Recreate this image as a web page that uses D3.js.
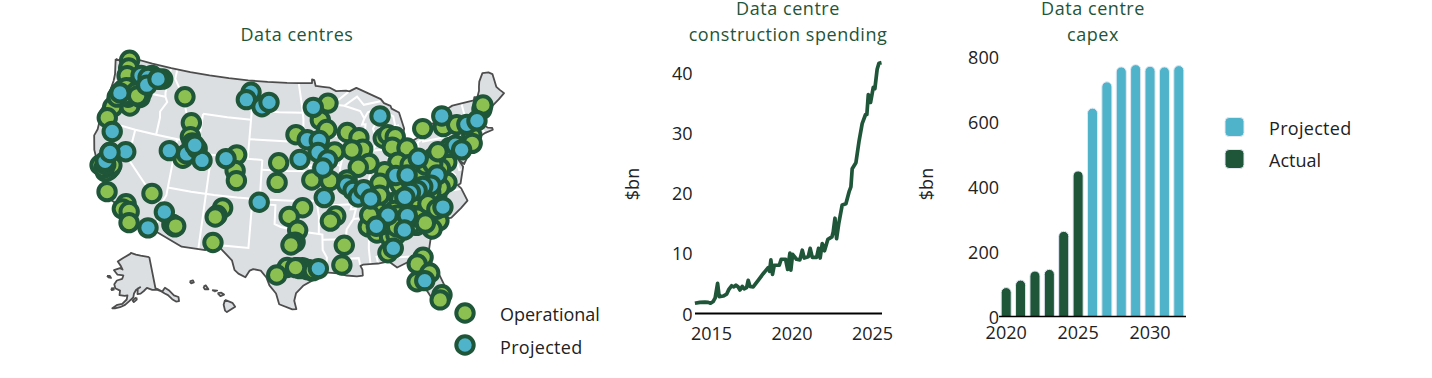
<!DOCTYPE html>
<html><head><meta charset="utf-8"><script src="https://cdn.jsdelivr.net/npm/d3@7"></script>
<style>html,body{margin:0;background:#fff}svg{display:block}text{font-family:"Open Sans",sans-serif}</style></head><body>
<svg id="c" width="1432" height="378"></svg>
<script>
const outline48=[[-125.6,48.4],[-123.8,48.3],[-122.8,49],[-120,49],[-117,49],[-114,49],[-111,49],[-108,49],[-105,49],[-102,49],[-99,49],[-97.2,49],[-95.15,49],[-95.15,49.38],[-94.8,49.3],[-94.6,48.7],[-93.5,48.6],[-92.5,48.5],[-91.5,48.1],[-90,48.1],[-89.5,48],[-88.4,48.3],[-84.9,46.9],[-84.5,46.45],[-83.6,46.1],[-83.5,45.8],[-82.5,45.3],[-82.1,43.6],[-82.5,42.6],[-83.1,42.2],[-83.1,41.95],[-82.4,41.7],[-81.3,42.2],[-78.9,42.9],[-79.05,43.25],[-79.2,43.45],[-78.7,43.63],[-76.8,43.63],[-76.4,44.1],[-75.3,44.85],[-74.7,45],[-71.5,45],[-71.3,45.3],[-70.85,45.25],[-70.4,45.8],[-70.25,46.2],[-70,46.7],[-69.2,47.45],[-68.3,47.35],[-67.8,47.07],[-67.8,45.7],[-67.45,45.3],[-67,44.85],[-68,44.4],[-69,44],[-70,43.7],[-70.7,43.07],[-70.8,42.8],[-71,42.3],[-70.6,41.95],[-70,41.8],[-70,41.6],[-71.1,41.5],[-71.9,41.3],[-73.6,41],[-72,41],[-73.9,40.55],[-74,40.5],[-74.1,39.7],[-74.9,38.95],[-75.5,39.5],[-75.1,38.7],[-75.9,37.1],[-76.3,37],[-75.95,36.6],[-75.5,35.25],[-76.5,34.65],[-77.9,33.9],[-78.55,33.85],[-79.2,33.2],[-80.9,32.05],[-81.4,30.7],[-81.3,29.9],[-80.55,28.4],[-80.05,26.9],[-80.15,25.75],[-80.4,25.2],[-81.1,25.15],[-81.8,26.1],[-82.2,26.9],[-82.75,27.9],[-82.65,28.9],[-83.4,29.6],[-84,30.1],[-85.3,29.7],[-86.2,30.4],[-87.5,30.3],[-88.1,30.3],[-89.3,30.3],[-89.6,30.2],[-89.4,29.8],[-89.4,29.2],[-90.1,29.15],[-91.3,29.3],[-92.3,29.55],[-93.8,29.7],[-94.7,29.4],[-95.3,28.9],[-96.4,28.35],[-97.2,27.6],[-97.4,26.8],[-97.15,25.95],[-97.6,25.9],[-99.1,26.4],[-99.5,27.5],[-100.3,28.3],[-100.7,29.1],[-101.4,29.77],[-102.3,29.88],[-102.7,29.7],[-103.15,28.98],[-104,29.3],[-104.5,29.65],[-104.9,30.6],[-106.5,31.75],[-108.2,31.78],[-108.2,31.33],[-111.07,31.33],[-114.8,32.5],[-117.12,32.53],[-117.3,33],[-118.4,33.75],[-118.7,34.03],[-119.6,34.15],[-121,34.55],[-121.3,35.15],[-122.6,36.6],[-123.2,37.75],[-123.9,38],[-124.6,38.9],[-125.2,40.3],[-125,41],[-125.1,42],[-125.4,42.85],[-125,44],[-124.9,46.2],[-125,46.9],[-125.6,48.4]];
const alaska=[[-141,69.6],[-141,60.3],[-139.5,59.8],[-137.5,58.9],[-136.5,59.4],[-135.5,59.8],[-133.8,58.8],[-132,56.9],[-130,56],[-130.5,54.8],[-132,55],[-133.5,56],[-135,57.5],[-136.5,58.2],[-138,59],[-140,59.7],[-143,60],[-146,60.8],[-148,60],[-150,59.3],[-151.8,59.2],[-151.5,60.8],[-150,61.2],[-152.5,60.5],[-153.8,59.4],[-154.2,58.3],[-156.5,57.1],[-158.5,56],[-161,55.2],[-163.5,54.7],[-164.8,54.6],[-162.5,55.8],[-160,56.2],[-157.8,57.6],[-157.5,58.8],[-159,58.6],[-162,58.7],[-162,60],[-165,60.5],[-166,61.6],[-164.8,62.8],[-161.5,63.5],[-161,64.5],[-165,64.5],[-168,65.6],[-164,66.5],[-162,66.2],[-163.7,67.2],[-166.5,68.3],[-163,69.5],[-157,71],[-156.5,71.3],[-152,70.8],[-148,70.4],[-141,69.6]];
const islands=[[[-152.4,58.2],[-152.3,57.6],[-153.9,56.9],[-154.6,57.4],[-153.2,58],[-152.4,58.2]],[[-171.7,63.5],[-170,63.7],[-168.8,63.2],[-170.5,63.2],[-171.7,63.5]],[[-167.4,60.2],[-166,60.4],[-165.7,60],[-166.8,59.8],[-167.4,60.2]],[[-155.9,20.2],[-155.1,19.9],[-154.8,19.5],[-155.7,18.95],[-155.9,19.1],[-156.05,19.7],[-155.9,20.2]],[[-156.7,20.9],[-156.3,20.95],[-156,20.75],[-156.4,20.6],[-156.7,20.9]],[[-158.25,21.55],[-158,21.7],[-157.7,21.3],[-158.1,21.3],[-158.25,21.55]],[[-159.75,22.1],[-159.4,22.2],[-159.3,22],[-159.6,21.9],[-159.75,22.1]],[[-157.3,21.2],[-156.75,21.17],[-157,21.08],[-157.3,21.2]]];
const stateLines=[
[[-124.9,46.25],[-123.2,46.15],[-122.8,45.65],[-121.2,45.65],[-119.3,45.93],[-116.92,46]],
[[-117.03,49],[-117.04,46.4],[-116.92,46],[-116.5,45.5],[-117.2,44.4],[-117.03,43.8],[-117.03,42]],
[[-125.1,42],[-120,42],[-117,42],[-114,42],[-111.05,42]],
[[-120,42],[-120,39],[-114.63,35],[-114.05,36.2],[-114.05,42]],
[[-114.72,32.72],[-114.5,33.4],[-114.15,34.25],[-114.63,35]],
[[-114.05,37],[-111,37],[-108,37],[-105,37],[-102.04,37],[-98,37],[-94.62,37]],
[[-111.05,45],[-111.05,41],[-108,41],[-105,41],[-102.05,41]],
[[-116.05,49],[-116.05,48],[-114.7,46.7],[-114.5,45.6],[-113.9,45.6],[-113.5,44.9],[-113,44.45],[-111.5,44.55],[-111.05,44.5]],
[[-111.05,45],[-107.5,45],[-104.05,45]],
[[-104.05,49],[-104.05,41]],
[[-104.05,45.94],[-100,45.94],[-96.56,45.94]],
[[-102.05,41],[-102.05,37]],
[[-102.05,40],[-98.5,40],[-95.3,40]],
[[-104.05,43],[-98.5,43],[-97.9,42.8],[-96.45,42.5]],
[[-109.05,41],[-109.05,37],[-109.05,31.33]],
[[-103,37],[-103.05,32],[-106.6,32],[-106.5,31.75]],
[[-103,36.5],[-100,36.5],[-100,34.56],[-99.2,34.3],[-98,34.1],[-97.2,33.85],[-96,33.8],[-94.48,33.63],[-94.04,33.55],[-94.04,32],[-93.55,31.2],[-93.7,30.1],[-93.8,29.7]],
[[-94.62,37],[-94.62,36.5],[-94.43,35.4],[-94.48,33.63]],
[[-94.62,36.5],[-90.15,36.5],[-90.37,36],[-89.7,36]],
[[-95.3,40],[-94.62,39.1],[-94.62,37]],
[[-96.45,42.5],[-96,41.5],[-95.8,40.6],[-95.3,40]],
[[-97.2,49],[-96.6,46.3],[-96.56,45.94],[-96.45,45.3],[-96.45,42.5]],
[[-96.45,43.5],[-91.22,43.5]],
[[-95.77,40.58],[-91.73,40.61],[-91.4,40.4]],
[[-89.5,48],[-92.1,46.75],[-92.3,46.1],[-92.9,45.6],[-92.75,44.75],[-91.22,43.5],[-91.2,42.7],[-90.64,42.5],[-90.15,41.8],[-91.1,41.2],[-91.4,40.4],[-91.5,40],[-90.7,39],[-90.2,38.7],[-89.5,37.3],[-89.15,37],[-89.5,36.5],[-89.7,36],[-90.1,35],[-91,34],[-91.2,33],[-91.1,32.5],[-91.6,31],[-89.75,31],[-89.6,30.2]],
[[-94.04,33.02],[-91.17,33]],
[[-88.1,35],[-88.45,31.9],[-88.4,30.3]],
[[-89.5,36.5],[-88,36.5],[-83.68,36.6],[-81.68,36.59],[-75.9,36.55]],
[[-90.1,35],[-84.3,35],[-82,36.1],[-81.68,36.59]],
[[-84.3,35],[-83.1,35],[-82.4,35.2],[-81,35.15],[-80.8,34.85],[-79.7,34.8],[-78.55,33.85]],
[[-85.6,34.98],[-85.2,32.85],[-85,32.3],[-85,31],[-87.6,31],[-87.5,30.3]],
[[-85,31],[-84.86,30.7],[-82.2,30.55],[-82,30.4],[-81.45,30.7]],
[[-83.1,35],[-81.9,33.5],[-81,32.1]],
[[-90.64,42.5],[-87.8,42.5]],
[[-87.53,41.7],[-87.53,39.35],[-88,37.8]],
[[-89.15,37],[-88,37.8],[-87,37.9],[-86,38],[-85.4,38.7],[-84.8,39.1],[-83.7,38.65],[-82.6,38.4],[-82,39],[-80.85,39.7],[-80.52,40.64]],
[[-82.6,38.4],[-82,37.5],[-83.68,36.6]],
[[-82,37.5],[-81.2,37.3],[-80.3,37.5],[-79.3,38.4],[-78.35,39.4],[-77.75,39.3],[-77.05,38.85],[-76.3,38]],
[[-77.75,39.3],[-79.48,39.2],[-79.48,39.72]],
[[-80.52,39.72],[-75.79,39.72]],
[[-80.52,39.72],[-80.52,42]],
[[-79.76,42.27],[-79.76,42],[-75.35,42],[-74.7,41.36],[-75.1,40.9],[-75.2,40.1],[-75.5,39.8]],
[[-74.7,41.36],[-73.9,41]],
[[-75.79,39.72],[-75.7,38.46],[-75.05,38.46]],
[[-84.8,39.1],[-84.8,41.73]],
[[-87,41.75],[-84.8,41.73],[-83.4,41.73]],
[[-73.65,41],[-73.5,42.05],[-73.27,42.75],[-73.35,45]],
[[-73.5,42.05],[-71.8,42.02],[-71.4,42.02],[-71.2,41.5]],
[[-71.8,42.02],[-71.85,41.3]],
[[-73.27,42.73],[-71.3,42.7],[-70.8,42.87]],
[[-72.46,42.73],[-72.05,44],[-71.5,45]],
[[-71.05,45.3],[-70.98,43.4],[-70.7,43.07]],
[[-90.4,46.55],[-88.1,45.9],[-87.6,45.1],[-88,44.5],[-87.5,44.5],[-87.9,43],[-87.8,42.5],[-87.5,41.7],[-87,41.75],[-86.5,42.1],[-86.2,43],[-86.5,44],[-85.5,45],[-84.8,45.75],[-85.5,46],[-87,45.7],[-87.6,45.1]],
[[-92.1,46.75],[-90.4,46.55],[-88.4,47.4],[-87.5,46.5],[-85,46.7]],
[[-83.4,41.73],[-82.5,41.4],[-81.7,41.5],[-80.52,42],[-79.76,42.27],[-78.9,42.9]],
[[-84.8,45.75],[-83.4,45],[-83.3,44],[-83.9,43.7],[-82.9,44],[-82.5,43],[-82.5,42.6]]
];
const operationalSites=[[-123.5,48.7],[-123.3,47.9],[-123.2,47.1],[-120.4,45.9],[-121.6,44.2],[-123.9,43.6],[-124.2,42.4],[-114.1,46.4],[-112.5,43.9],[-112.3,42.5],[-111.9,41.9],[-112.8,40.2],[-105.6,41.3],[-105.6,39.7],[-105.3,38.7],
[-99.8,40.8],[-99.9,38.8],[-97.5,43.7],[-119.6,47.8],[-117.9,47.7],[-118.4,47.6],[-123.5,45.2],[-123.2,45.6],[-122.9,37.5],[-122.1,37.3],[-121.9,37.6],[-122.5,39.1],[-121.5,35.2],[-115.9,36.1],[-118.8,34.5],
[-119.1,33.9],[-118.2,33.8],[-117.9,32.7],[-112.6,33.4],[-112.7,33.4],[-106.7,35.8],[-107.3,35],[-107.5,34.8],[-107.4,32.2],[-96.5,36.3],[-98.2,35.4],[-92.3,35.4],[-93,34.9],[-97.1,34],[-97.4,32.8],
[-97.7,32.7],[-97.9,32.5],[-91.4,32.4],[-91.8,30.4],[-98.3,30.2],[-99.5,29.4],[-97.1,30.2],[-96.5,30.2],[-95.9,30],[-95.4,29.9],[-94,45.2],[-93.1,44.2],[-92.8,46.9],[-90.2,43.8],[-88.6,43.2],
[-88.2,42],[-89.7,42],[-92.1,41.9],[-95.3,39.1],[-92.9,39],[-87.5,40.5],[-89,40.2],[-85.2,42.9],[-84.5,43.2],[-83.5,42.9],[-84.1,41.9],[-82.1,41.6],[-83.6,40.3],[-85.5,39.5],[-86.3,38.4],
[-90.6,39],[-79.5,43.3],[-76.6,43.1],[-74.7,43],[-70.7,43.9],[-70.4,44.3],[-73,41.6],[-73.2,40.8],[-77.1,39.5],[-76.3,40.9],[-78.8,40.2],[-77.6,37.5],[-87.2,36.1],[-85,36.3],[-88.3,34.1],
[-87.3,33.4],[-85.6,33.9],[-85.8,32.9],[-86.2,31.3],[-81.2,35.3],[-82.3,33.7],[-79.5,33.8],[-80.5,33.1],[-82.1,30.4],[-82.9,29.8],[-81.6,28.7],[-83.2,28],[-80.6,26.3],[-80.9,25.8],[-84,36.5],
[-82.2,35.3],[-122.2,45],[-120.5,45.3],[-121.9,46.1],[-123.7,44.7],[-123.3,37.6],[-122.4,37.1],[-121.8,37.9],[-112.3,33.2],[-81.8,37.8],[-80.6,36.9],[-83.7,38],[-82.3,38.4],[-83.4,35.9],[-84.8,35.5],
[-83.1,33.8],[-81.1,34.6],[-79.2,36.4],[-81.8,39.8],[-80.2,39.1],[-78.1,39],[-86.5,37.2],[-88,35.3],[-86.6,34.2],
[-96.8,30.1],[-96.2,30.1],[-95.7,30],[-95.2,29.9],[-97.3,30.2],[-112.5,33.3],[-112.2,33.3],[-121.9,45.6],[-122.6,45.2],[-122.8,45.9],[-121.3,45.7],[-120.9,45.4],[-122.7,37.4],[-122.6,37.8],[-80,37.9],[-79.2,37.6],[-78.6,37.1],[-79.9,36.8],[-81.2,36.8],[-81.9,36.4],[-84.5,35],[-82,34.5],[-80.5,35.7],[-79.5,35],[-81.2,33.8],[-85,33],[-84.8,33.8],[-81,39],[-80,39.6],[-79,39.6],[-78,40.7],[-82,39.9]];
const projectedSites=[[-121.2,47.5],[-120.1,47.5],[-120,46.7],[-118.6,47.6],[-123.5,45.2],[-123,41.2],
[-120.5,39.6],[-122.8,38.1],[-122.5,39.1],[-114.8,40.7],[-112.4,40.7],[-111.1,41.4],[-110.2,40.3],[-111.5,41.7],[-107,40.8],[-104.4,47.8],[-105,47],[-102.6,46.4],[-101.6,46.9],[-95.9,43.2],[-94.2,43.1],
[-96.9,41.2],[-94.4,41.9],[-93.1,41.1],[-93.8,40.3],[-115.5,32.6],[-113.9,34.5],[-102.1,36.7],[-93.7,37.3],[-94.6,30.1],[-95,46.5],[-85.3,45.2],[-90.7,38.5],[-89.9,37.9],[-89.3,37.2],[-88.5,37.9],
[-87.7,36.9],[-84.1,39],[-82.6,38.9],[-80.8,40.4],[-76.5,44.2],[-73.3,42.8],[-71.8,42.9],[-75.5,41],[-74.8,40.4],[-78.7,38.4],[-79.7,37.5],[-80.8,37.5],[-81.6,37.2],[-82.5,37.1],[-83.3,36.7],
[-78.7,35.1],[-83.3,34.8],[-83.9,33.4],[-85.7,35.1],[-87.3,34.1],[-85.5,31.7],[-82.3,28]];
const spendingYears=[2014,2014.31,2014.62,2014.83,2014.97,2015.14,2015.26,2015.41,2015.51,2015.76,2015.97,2016.11,2016.28,2016.42,2016.55,2016.69,2016.8,2016.94,2017.06,2017.21,2017.31,2017.42,2017.62,2017.93,2018.24,2018.55,2018.64,2018.72,2018.82,2018.93,2019.24,2019.36,2019.63,2019.76,2019.9,2019.96,2020.07,2020.31,2020.52,2020.67,2020.79,2021.04,2021.16,2021.29,2021.56,2021.68,2021.78,2021.91,2022.05,2022.26,2022.51,2022.59,2022.7,2022.8,2022.94,2023.15,2023.38,2023.59,2023.69,2023.77,2024,2024.19,2024.39,2024.6,2024.68,2024.77,2024.91,2025.08,2025.18,2025.32,2025.43,2025.59];
const spendingValues=[1.7,1.85,1.9,1.85,1.7,2,2.6,5,2.8,2.9,3.2,4,4.6,4.4,4.7,4.4,3.9,4.5,4.1,4.3,5.5,4.5,4.4,5.5,6.6,7.6,7,8.9,6.5,8,8,9,9,7.3,10,7.2,9.8,9,8.9,10.5,9.2,9.4,10.8,9.3,9.3,10.8,9.2,11.6,10.4,12.3,12.7,13.5,15.8,12.4,15,18,18.2,20.3,21,24,25,28.5,31.5,33,33,36.3,35,37.5,37.3,40.5,41.5,41.6];
const capexYears=[2020,2021,2022,2023,2024,2025,2026,2027,2028,2029,2030,2031,2032];
const capexValues=[89,112,140,145,262,448,641,722,768,775,770,768,772];
const capexStatus=["Actual","Actual","Actual","Actual","Actual","Actual","Projected","Projected","Projected","Projected","Projected","Projected","Projected"];
const COL={dark:"#1f5538",green:"#8cc152",blue:"#4fb3c9",land:"#dcdfe2",edge:"#4d4d4d",ink:"#222",halo:"#e3e8f4"};
const FS=18;
const svg=d3.select("#c");
const txt=(x,y,s,o={})=>svg.append("text").attr("x",x).attr("y",y).attr("fill",o.fill||COL.ink).attr("font-size",o.size||FS).attr("text-anchor",o.anchor||"start").attr("font-weight",o.weight||400).attr("letter-spacing",o.ls||0).text(s);
const title=(x,y,s)=>txt(x,y,s,{fill:COL.dark,anchor:"middle",weight:500,size:18,ls:.55});
// map
const proj=d3.geoAlbersUsa().scale(560).translate([302,184]);
const line=d3.line().defined(d=>d).x(d=>d[0]).y(d=>d[1]);
const pp=a=>a.map(p=>proj(p));
const g=svg.append("g");
const shapes=[outline48,alaska,...islands];
shapes.forEach(r=>g.append("path").attr("d",line(pp(r))).attr("fill",COL.land));
stateLines.forEach(r=>g.append("path").attr("d",line(pp(r))).attr("fill","none").attr("stroke","#fff").attr("stroke-width",2));
shapes.forEach(r=>g.append("path").attr("d",line(pp(r))).attr("fill","none").attr("stroke",COL.edge).attr("stroke-width",1.8).attr("stroke-linejoin","round"));
const dot=(sel,x,y,c)=>sel.append("circle").attr("cx",x).attr("cy",y).attr("r",8.7).attr("fill",c).attr("stroke",COL.dark).attr("stroke-width",4);
operationalSites.forEach(s=>{const p=proj(s);if(p)dot(g,p[0],p[1],COL.green)});
projectedSites.forEach(s=>{const p=proj(s);if(p)dot(g,p[0],p[1],COL.blue)});
title(297,40.5,"Data centres");
dot(svg,465,313,COL.green);dot(svg,465,345,COL.blue);
txt(500,320.5,"Operational");txt(500,353.5,"Projected",{ls:.3});
// line chart
const xL=d3.scaleLinear().domain([2015,2025]).range([711,872]);
const yL=d3.scaleLinear().domain([0,40]).range([313.5,72.3]);
const styleAxis=a=>{a.select(".domain").remove();a.selectAll("line").remove();a.selectAll("text").attr("font-size",FS).attr("font-family","Open Sans").attr("fill",COL.ink)};
svg.append("g").attr("transform","translate(692.5,1)").call(d3.axisLeft(yL).tickValues([0,10,20,30,40]).tickSize(0).tickPadding(0)).call(styleAxis);
svg.append("g").attr("transform","translate(0,313.5)").call(d3.axisBottom(xL).tickValues([2015,2020,2025]).tickFormat(d3.format("d")).tickSize(0).tickPadding(14)).call(styleAxis);
svg.append("line").attr("x1",695).attr("x2",882).attr("y1",yL(0)).attr("y2",yL(0)).attr("stroke","#000").attr("stroke-width",2);
svg.append("path").attr("d",d3.line().x((d,i)=>xL(spendingYears[i])).y(d=>yL(d))(spendingValues)).attr("fill","none").attr("stroke",COL.dark).attr("stroke-width",3.7).attr("stroke-linejoin","round");
title(788,14.5,"Data centre");title(788,40.5,"construction spending");
txt(0,0,"$bn",{anchor:"middle"}).attr("transform","translate(639,184) rotate(-90)");
// capex
const xB=d3.scaleBand().domain(capexYears).range([999,1186]).paddingInner(.3).paddingOuter(.15);
const yB=d3.scaleLinear().domain([0,800]).range([316.5,56.5]);
svg.append("g").attr("transform","translate(999,1.5)").call(d3.axisLeft(yB).tickValues([0,200,400,600,800]).tickSize(0).tickPadding(0)).call(styleAxis);
svg.append("g").attr("transform","translate(0,316.5)").call(d3.axisBottom(xB).tickValues([2020,2025,2030]).tickSize(0).tickPadding(10)).call(styleAxis);
capexValues.forEach((v,i)=>{
  const x=xB(capexYears[i]),w=xB.bandwidth(),r=w/2,t=yB(v),b=yB(0);
  svg.append("path").attr("d",`M${x},${b}V${t+r}A${r},${r} 0 0 1 ${x+w},${t+r}V${b}Z`).attr("fill",capexStatus[i]==="Actual"?COL.dark:COL.blue).attr("stroke",COL.halo).attr("stroke-width",1);
});
svg.append("line").attr("x1",999).attr("x2",1186).attr("y1",yB(0)).attr("y2",yB(0)).attr("stroke","#000").attr("stroke-width",1.6);
title(1093,14.5,"Data centre");title(1093,40.5,"capex");
txt(0,0,"$bn",{anchor:"middle"}).attr("transform","translate(933,184) rotate(-90)");
const sw=(y,c)=>svg.append("rect").attr("x",1225).attr("y",y).attr("width",19).attr("height",19).attr("rx",4).attr("fill",c).attr("stroke",COL.halo).attr("stroke-width",1);
sw(117.5,COL.blue);sw(149.5,COL.dark);
txt(1269,134.5,"Projected",{ls:.3});txt(1269,166.5,"Actual");
</script></body></html>
